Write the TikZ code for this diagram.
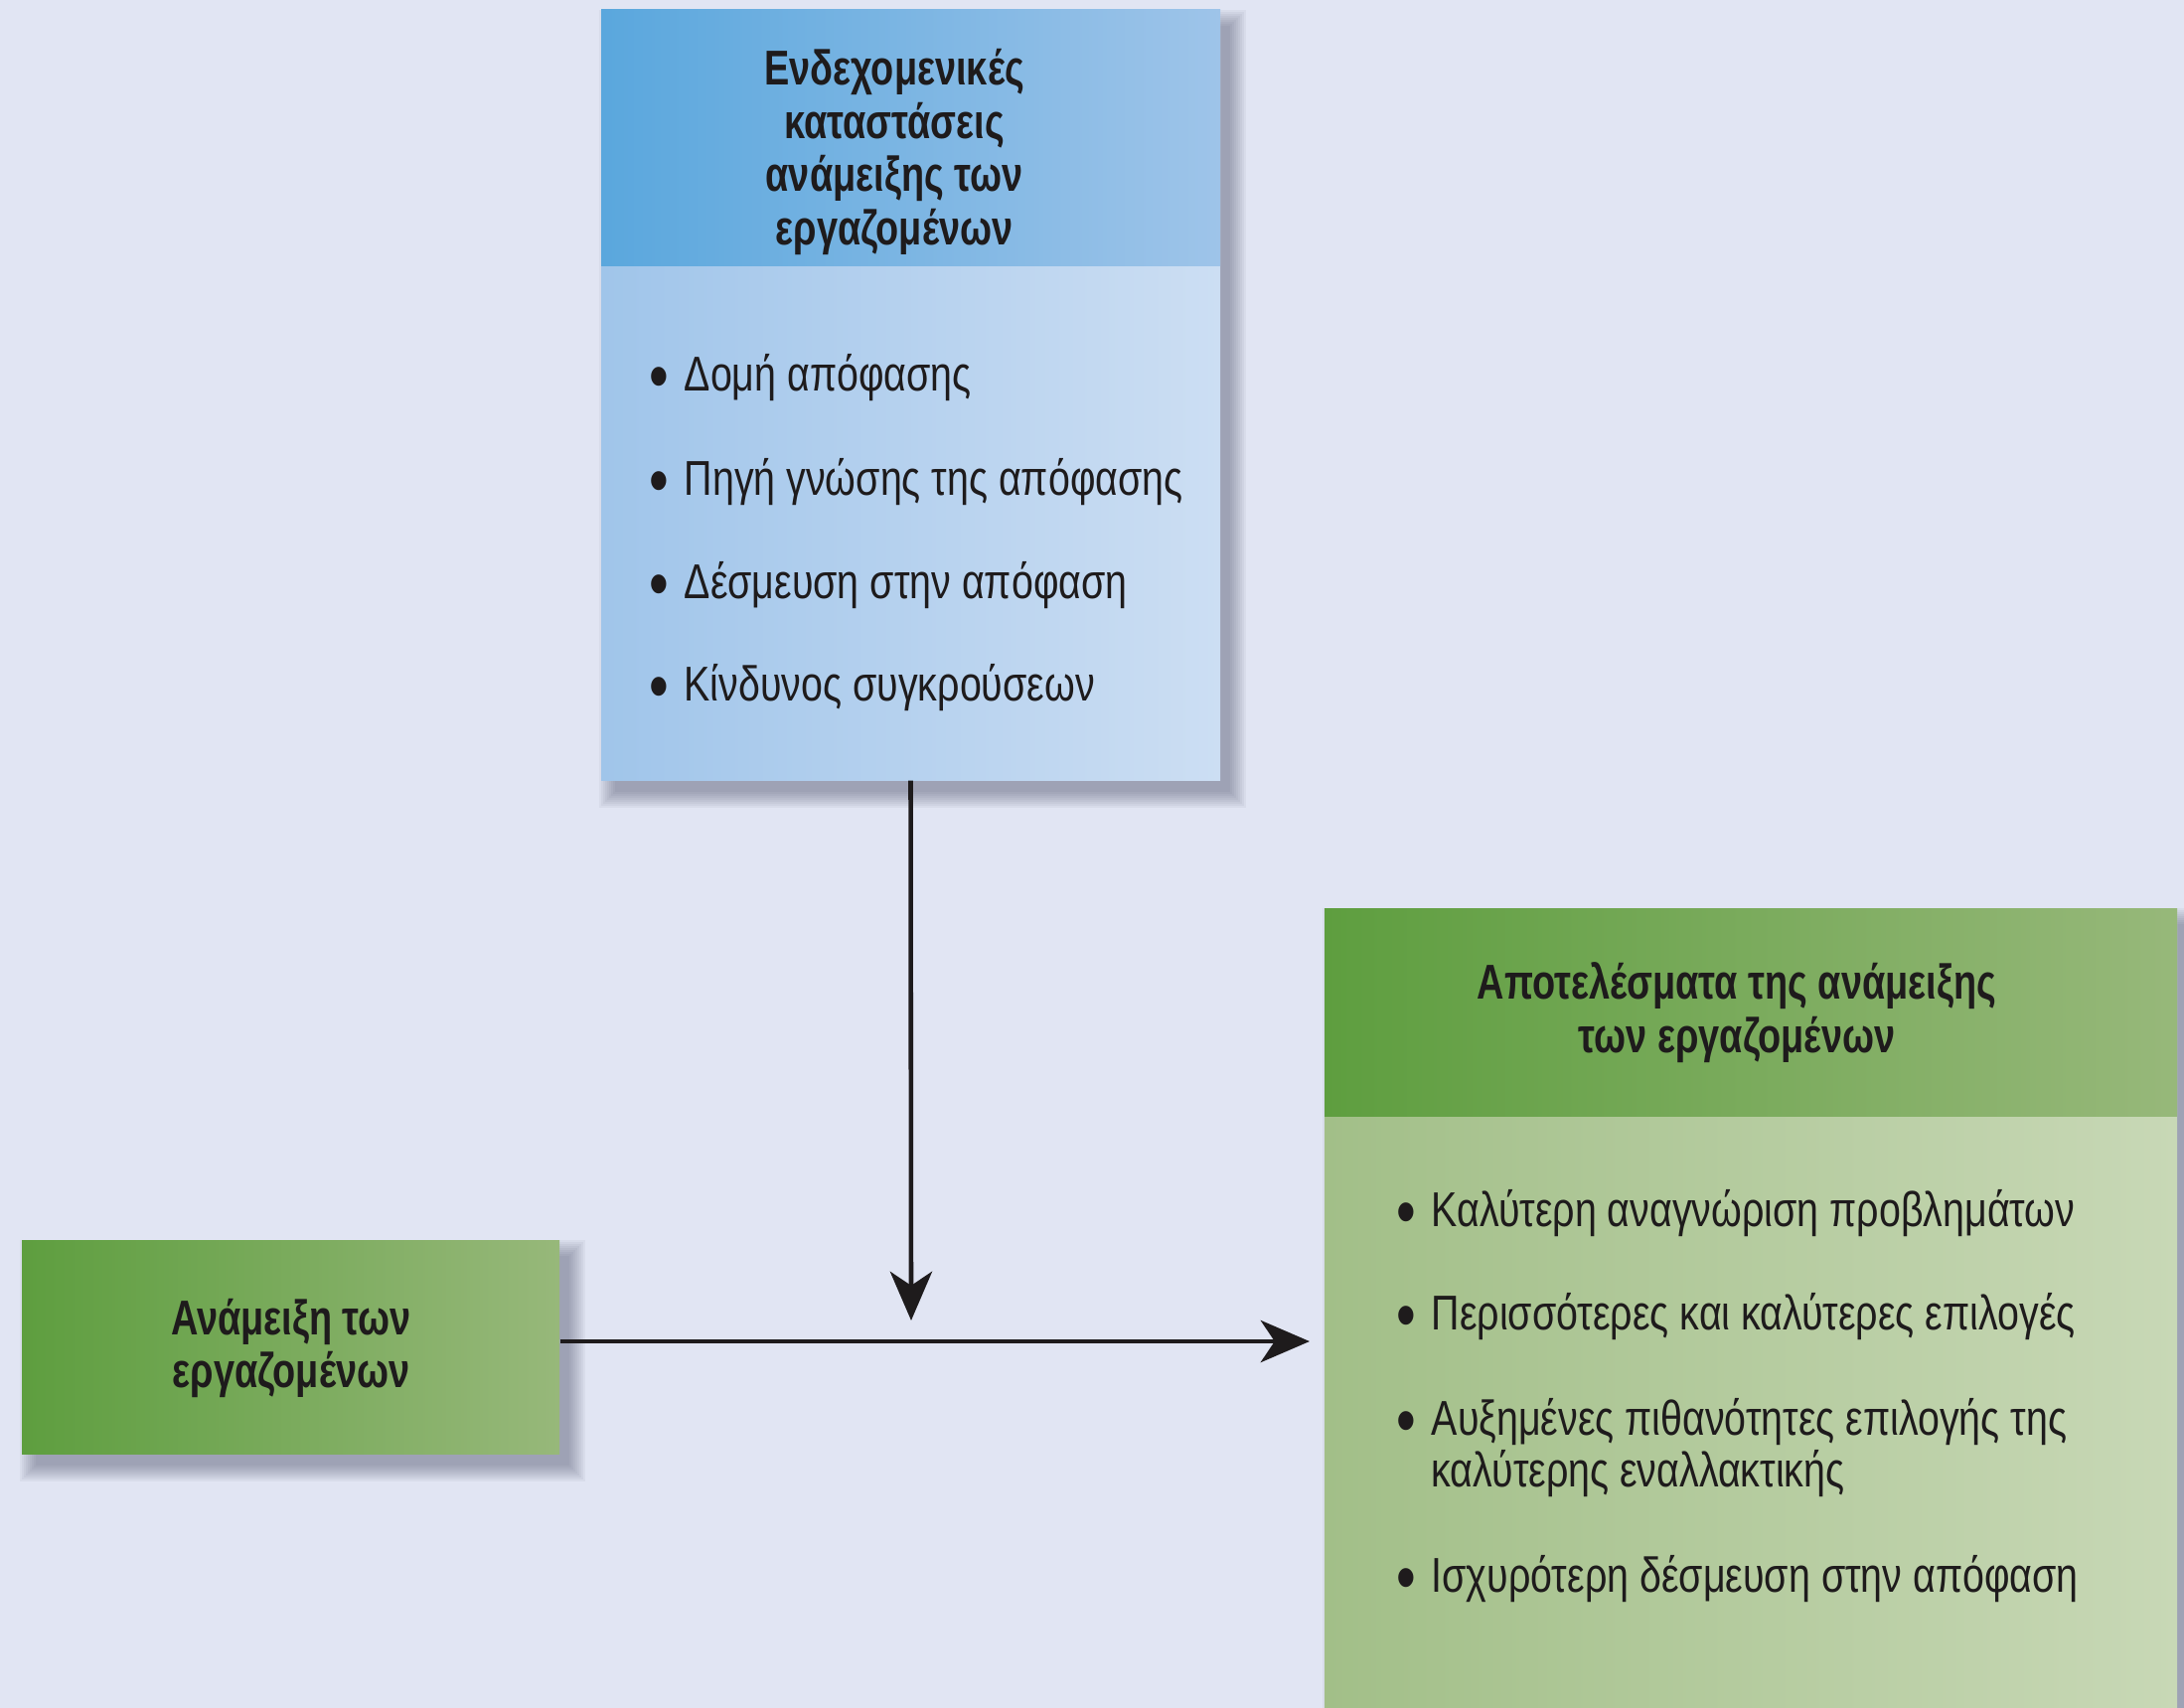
\documentclass[tikz,border=0pt]{standalone}
\usepackage{fontspec}
\setmainfont{Liberation Sans}[FakeStretch=0.8, BoldFeatures={FakeStretch=0.77}]
\usetikzlibrary{arrows.meta,fit}
\definecolor{bg}{HTML}{E1E5F3}
\definecolor{blueHL}{HTML}{5AA7DD}
\definecolor{blueHR}{HTML}{9EC4E9}
\definecolor{blueBL}{HTML}{A0C5EA}
\definecolor{blueBR}{HTML}{CCDEF3}
\definecolor{greenHL}{HTML}{5E9E3F}
\definecolor{greenHR}{HTML}{97B87A}
\definecolor{greenBL}{HTML}{A2BF88}
\definecolor{greenBR}{HTML}{C8D8B6}
\definecolor{ink}{HTML}{1E1B1C}
\definecolor{shade}{HTML}{4A4E66}
\tikzset{
  shadowlayer/.style={fill=shade, opacity=0.06, draw=none},
  panel/.style={inner sep=0pt, draw=none},
  headtxt/.style={align=center, text=ink, font=\fontsize{14}{15.3}\selectfont\bfseries},
  itemtxt/.style={anchor=west, align=left, text=ink, inner sep=0pt, font=\fontsize{14}{15}\selectfont},
  arr/.style={draw=ink, line width=1.3pt, -{Stealth[length=14pt, width=12pt, inset=4pt]}}
}
\newcommand{\bul}{\llap{\raisebox{-2.6pt}{\fontsize{20}{20}\selectfont •}\hspace{4.5pt}}}
% soft drop shadow: #1,#2 = top left, #3,#4 = bottom right (pixel units)
\newcommand{\softshadow}[4]{%
  \foreach \r in {0,2,...,16}{%
    \fill[shadowlayer] (#1+14-\r,#2+16-\r) rectangle (#3+10+\r,#4+12+\r);}}
\begin{document}
\begin{tikzpicture}[x=0.01cm, y=-0.01cm]
\useasboundingbox (0,0) rectangle (2198,1719);
\fill[bg] (0,0) rectangle (2198,1719);

% shadows
\softshadow{605}{10}{1228}{785}
\softshadow{22}{1248}{563}{1463}
\softshadow{1333}{914}{2191}{1760}

% top box
\node[panel, fit={(605,10) (1228,785)}, left color=blueBL, right color=blueBR] (topbox) {};
\node[panel, fit={(605,10) (1228,268)}, left color=blueHL, right color=blueHR] (tophead) {};
\node[headtxt] (toptitle) at (900,153) {Ενδεχομενικές\\καταστάσεις\\ανάμειξης των\\εργαζομένων};
\node[itemtxt] (t1) at (688,380) {\bul Δομή απόφασης};
\node[itemtxt] (t2) at (688,485) {\bul Πηγή γνώσης της απόφασης};
\node[itemtxt] (t3) at (688,589) {\bul Δέσμευση στην απόφαση};
\node[itemtxt] (t4) at (688,692) {\bul Κίνδυνος συγκρούσεων};

% left box
\node[panel, fit={(22,1248) (563,1463)}, shading angle=60, left color=greenHL, right color=greenHR] (leftbox) {};
\node[headtxt] (lefttitle) at (293,1357) {Ανάμειξη των\\εργαζομένων};

% right box
\node[panel, fit={(1333,914) (2191,1760)}, left color=greenBL, right color=greenBR] (rightbox) {};
\node[panel, fit={(1333,914) (2191,1123)}, left color=greenHL, right color=greenHR] (righthead) {};
\node[headtxt] (righttitle) at (1748,1019) {Αποτελέσματα της ανάμειξης\\των εργαζομένων};
\node[itemtxt] (r1) at (1440,1221) {\bul Καλύτερη αναγνώριση προβλημάτων};
\node[itemtxt] (r2) at (1440,1325) {\bul Περισσότερες και καλύτερες επιλογές};
\node[itemtxt] (r3) at (1440,1457) {\bul Αυξημένες πιθανότητες επιλογής της\\καλύτερης εναλλακτικής};
\node[itemtxt] (r4) at (1440,1589) {\bul Ισχυρότερη δέσμευση στην απόφαση};

% connectors
\coordinate (vtip) at (917,1329);
\coordinate (htip) at (1318,1350);
\draw[arr] (topbox.south) -- (vtip);
\draw[arr] (leftbox.east |- htip) -- (htip);
\end{tikzpicture}
\end{document}
